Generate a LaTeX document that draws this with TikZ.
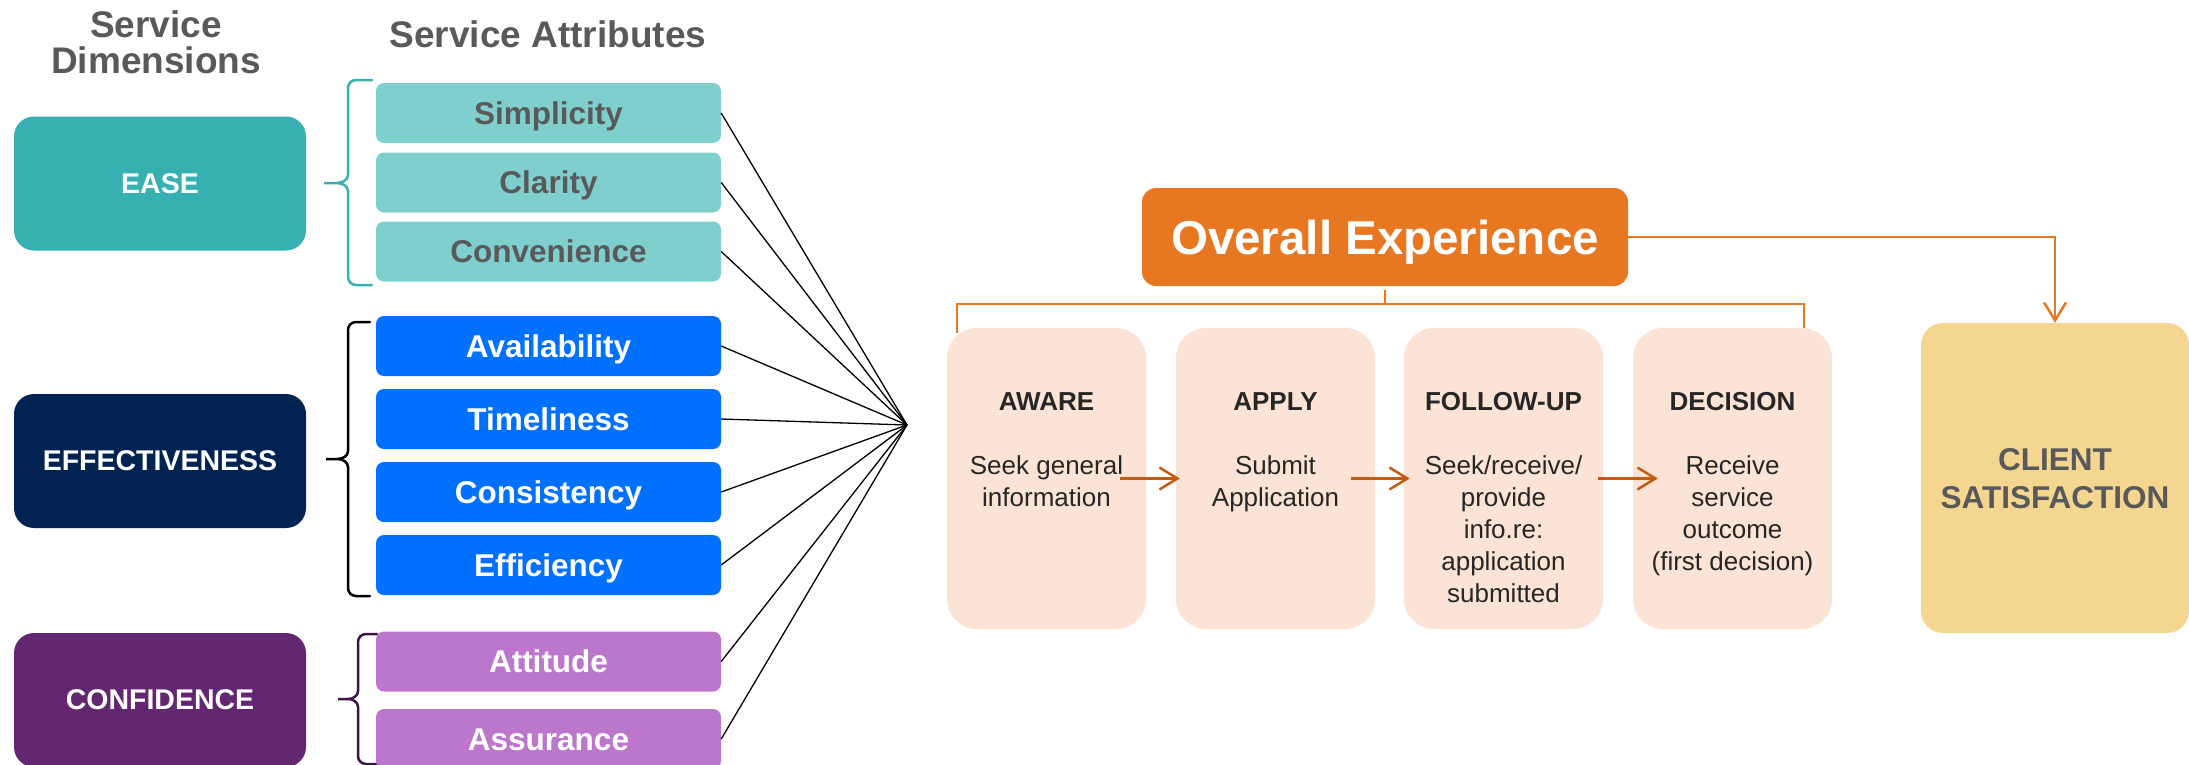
\documentclass[tikz,border=0pt]{standalone}
\usepackage{fontspec}
\setmainfont{Liberation Sans}
\usetikzlibrary{arrows.meta}
\definecolor{easeC}{HTML}{36B0B0}
\definecolor{easeL}{HTML}{80CFCF}
\definecolor{effC}{HTML}{002352}
\definecolor{effL}{HTML}{0070FF}
\definecolor{confC}{HTML}{632670}
\definecolor{confL}{HTML}{BC77CC}
\definecolor{orangeC}{HTML}{E87722}
\definecolor{arrC}{HTML}{C55A11}
\definecolor{procC}{HTML}{FBE4D5}
\definecolor{clientC}{HTML}{F5D690}
\definecolor{greyT}{HTML}{595959}
\definecolor{darkT}{HTML}{262626}
\definecolor{braceP}{HTML}{3D1346}
\tikzset{
  dimbox/.style={rounded corners=20pt, minimum width=292pt, minimum height=134pt, inner sep=0pt, text=white, font=\fontsize{28.5}{34}\selectfont\bfseries},
  attrbox/.style={rounded corners=8pt, minimum width=345pt, minimum height=60pt, inner sep=0pt, text height=22.5pt, text depth=0pt, font=\fontsize{31.5}{38}\selectfont\bfseries},
  procbox/.style={fill=procC, rounded corners=30pt, minimum width=199pt, minimum height=301pt, inner sep=0pt},
  proctext/.style={anchor=north, inner sep=0pt, align=center, text=darkT, font=\fontsize{26}{32}\selectfont},
  headtext/.style={font=\fontsize{37}{36}\selectfont\bfseries, text=greyT, align=center, inner sep=0pt},
  fanline/.style={line width=1.3pt, draw=black},
  oline/.style={draw=orangeC, line width=2.5pt},
  parrow/.style={draw=arrC, line width=2.5pt, -{Straight Barb[length=18pt,width=22pt,line width=2.5pt]}},
  bracepath/.style={line width=2.5pt, line cap=round}
}
\begin{document}
\begin{tikzpicture}[x=1pt,y=-1pt]
\useasboundingbox (0,0) rectangle (2189,764);

% headers
\node[headtext, anchor=north] (hdim) at (156,10) {Service\\Dimensions};
\node[headtext, anchor=base] (hattr) at (548,47) {Service Attributes};

% dimension boxes
\node[dimbox, fill=easeC] (ease) at (160,183.5) {EASE};
\node[dimbox, fill=effC] (eff) at (160,461) {EFFECTIVENESS};
\node[dimbox, fill=confC] (conf) at (160,700) {CONFIDENCE};

% braces
\draw[bracepath, draw=easeC] (372,80) -- (356,80) to[out=180,in=90] (348,88) -- (348,175) to[out=-90,in=0] (336,183) -- (324,183) -- (336,183) to[out=0,in=90] (348,191) -- (348,277) to[out=-90,in=180] (356,285) -- (372,285);
\draw[bracepath, draw=black] (370,322) -- (356,322) to[out=180,in=90] (348,330) -- (348,451) to[out=-90,in=0] (337,459) -- (326,459) -- (337,459) to[out=0,in=90] (348,467) -- (348,588) to[out=-90,in=180] (356,596) -- (370,596);
\draw[bracepath, draw=braceP] (377,634) -- (366,634) to[out=180,in=90] (358,642) -- (358,691) to[out=-90,in=0] (348,699) -- (338,699) -- (348,699) to[out=0,in=90] (358,707) -- (358,756) to[out=-90,in=180] (366,764) -- (377,764);

% attribute boxes
\node[attrbox, fill=easeL, text=greyT] (simp) at (548.5,113) {Simplicity};
\node[attrbox, fill=easeL, text=greyT] (clar) at (548.5,182.5) {Clarity};
\node[attrbox, fill=easeL, text=greyT] (conv) at (548.5,251.5) {Convenience};
\node[attrbox, fill=effL, text=white] (avail) at (548.5,346) {Availability};
\node[attrbox, fill=effL, text=white] (time) at (548.5,419) {Timeliness};
\node[attrbox, fill=effL, text=white] (cons) at (548.5,492) {Consistency};
\node[attrbox, fill=effL, text=white] (effi) at (548.5,565) {Efficiency};
\node[attrbox, fill=confL, text=white] (atti) at (548.5,661.5) {Attitude};
\node[attrbox, fill=confL, text=white] (assu) at (548.5,739) {Assurance};

% fan
\coordinate (hub) at (907,425);
\foreach \n in {simp,clar,conv,avail,time,cons,effi,atti,assu}
  \draw[fanline] (\n.east) -- (hub);

% overall experience
\node[fill=orangeC, rounded corners=14pt, minimum width=486pt, minimum height=98pt, inner sep=0pt, text height=34pt, text depth=0pt, text=white, font=\fontsize{47.5}{56}\selectfont\bfseries] (oe) at (1385,237) {Overall Experience};

% client satisfaction
\node[fill=clientC, rounded corners=22pt, minimum width=268pt, minimum height=310pt, inner sep=0pt] (client) at (2055,478) {};
\node[align=center, inner sep=0pt, text=greyT, font=\fontsize{31.5}{38}\selectfont\bfseries] (clientT) at (2055,479) {CLIENT\\SATISFACTION};

% orange connectors
\coordinate (bl) at (957,304);
\coordinate (br) at (1804,304);
\coordinate (blb) at (957,333);
\coordinate (brb) at (1804,333);
\draw[oline] ([yshift=-4pt]oe.south) -- (oe.south |- bl);
\draw[oline] (blb) -- (bl) -- (br) -- (brb);
\draw[oline, -{Straight Barb[length=18pt,width=22pt,line width=2.5pt]}] (oe.east) -| (client.north);

% process boxes
\node[procbox] (aware) at (1046.5,478.5) {};
\node[procbox] (apply) at (1275.5,478.5) {};
\node[procbox] (follow) at (1503.5,478.5) {};
\node[procbox] (decis) at (1732.5,478.5) {};

\node[proctext] (awareT) at (1046.5,392) {\bfseries AWARE\\[32pt]Seek general\\information};
\node[proctext] (applyT) at (1275.5,392) {\bfseries APPLY\\[32pt]Submit\\Application};
\node[proctext] (followT) at (1503.5,392) {\bfseries FOLLOW-UP\\[32pt]Seek/receive/\\provide\\info.re:\\application\\submitted};
\node[proctext] (decisT) at (1732.5,392) {\bfseries DECISION\\[32pt]Receive\\service\\outcome\\(first decision)};

% process arrows
\draw[parrow] ([xshift=-26pt]aware.east) -- ([xshift=4pt]apply.west);
\draw[parrow] ([xshift=-24pt]apply.east) -- ([xshift=6pt]follow.west);
\draw[parrow] ([xshift=-5pt]follow.east) -- ([xshift=25pt]decis.west);
\end{tikzpicture}
\end{document}
